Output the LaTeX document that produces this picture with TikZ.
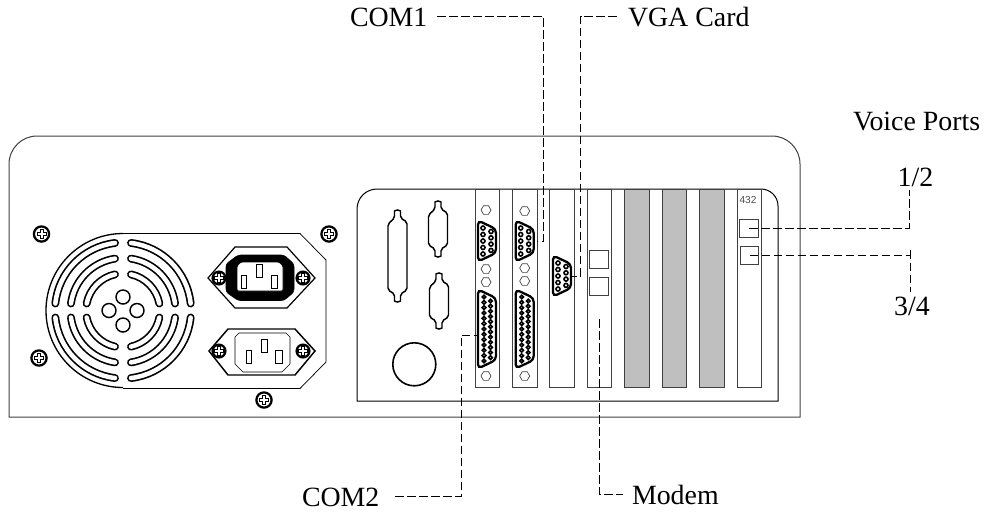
\documentclass[tikz,border=0pt]{standalone}
\usepackage{fontspec}
\setmainfont{Liberation Serif}
\setsansfont{Liberation Sans}
\usetikzlibrary{positioning, calc}
\tikzset{
  caseline/.style={line width=.75pt,draw=black!75},
  panelline/.style={line width=.75pt,draw=black},
  card/.style={draw=black!75,line width=.7pt,rectangle,inner sep=0pt,outer sep=0pt,minimum width=18.4pt,minimum height=149pt},
  blankcard/.style={card,fill=black!25},
  jack/.style={draw=black!75,line width=.6pt,rectangle,inner sep=0pt,outer sep=0pt,minimum width=13.8pt,minimum height=13.5pt},
  callout/.style={font=\fontsize{20.9}{24}\selectfont,inner sep=0pt,outer sep=0pt},
  link/.style={line width=.55pt,dash pattern=on 6.5pt off 2.5pt},
  fanslot/.style={double=white,double distance=3.4pt,line width=1.25pt,line cap=round},
  portbox/.style={inner sep=0pt,outer sep=0pt,minimum width=14.5pt},
  pics/screw/.style={code={
    \draw[line width=1.7pt,fill=white] (0,0) circle[radius=#1];
    \draw[line width=.6pt] (-1.5,-4.6) -- (1.5,-4.6) -- (1.5,-1.5) -- (4.6,-1.5) -- (4.6,1.5) -- (1.5,1.5)
      -- (1.5,4.6) -- (-1.5,4.6) -- (-1.5,1.5) -- (-4.6,1.5) -- (-4.6,-1.5) -- (-1.5,-1.5) -- cycle;
  }},
  pics/hole/.style={code={
    \draw[line width=.5pt,draw=black!75] (0:5) -- (60:5) -- (120:5) -- (180:5) -- (240:5) -- (300:5) -- cycle;
  }},
  pics/dshell/.style={code={
    \draw[line width=1.1pt,rounded corners=1.5pt,fill=white] (-3,{-#1-3}) -- (-3,{-#1-8}) arc[start angle=180,end angle=360,radius=3]
      -- (3,{-#1-3}) -- (9.5,{-#1+1}) -- (9.5,{#1-1}) -- (3,{#1+3}) -- (3,{#1+8}) arc[start angle=0,end angle=180,radius=3]
      -- (-3,{#1+3}) -- (-9.5,{#1-1}) -- (-9.5,{-#1+3}) -- cycle;
  }},
  pin/.style={line width=1.2pt,fill=white},
  pics/nineport/.style={code={
    \draw[line width=1.7pt,rounded corners=3pt,fill=white] (-9,-20.5) -- (9,-12) -- (9,12) -- (-9,20.5) -- cycle;
    \foreach \i in {0,...,4}
      \draw[pin] (-4,{-13+6.5*\i}) circle[radius=2];
    \foreach \i in {0,...,3}
      \draw[pin] (4,{-9.5+6.3*\i}) circle[radius=2];
  }},
  pics/bigport/.style={code={
    \draw[line width=1.7pt,rounded corners=3pt,fill=white] (-9,-39.5) -- (9,-31) -- (9,31) -- (-9,39.5) -- cycle;
    \foreach \i in {0,...,12}
      \draw[pin] (-3,{-32+5.33*\i}) circle[radius=1.8];
    \foreach \i in {0,...,11}
      \draw[pin] (3.5,{-28+5.15*\i}) circle[radius=1.8];
  }},
}
\begin{document}
\begin{tikzpicture}[x=.75pt,y=-.75pt]
        \useasboundingbox (0,0) rectangle (989,512);
        % case and back panel
        \draw[caseline] (9,417) -- (9,164) arc[start angle=180,end angle=270,radius=28] -- (772,136)
           arc[start angle=270,end angle=360,radius=28] -- (800,417) -- cycle;
        \draw[panelline] (357,401) -- (357,209) arc[start angle=180,end angle=270,radius=20] -- (761,189)
           arc[start angle=270,end angle=360,radius=17] -- (778,401) -- cycle;
        % power supply
        \coordinate (fan) at (123,310.5);
        \draw[line width=.55pt] (123,233.5) -- (300,233.5) -- (326,260) -- (326,362) -- (300,388.5) -- (123,388.5);
        \draw[line width=1pt] (fan) ++(270:77) arc[start angle=270,end angle=90,radius=77];
        \foreach \rad in {68,52.5,37}{
          \pgfmathsetmacro\gapa{asin(8/\rad)}
          \pgfmathsetmacro\gapb{asin(7/\rad)}
          \foreach \from/\to in {\gapb/90-\gapa,90+\gapa/180-\gapb,180+\gapb/270-\gapa,270+\gapa/360-\gapb}
            \draw[fanslot] (fan) ++({\from}:\rad) arc[start angle={\from},end angle={\to},radius=\rad];
        }
        \foreach \dx/\dy in {0/-13.5,0/14.5,-14/0,14/0}
          \draw[line width=1.1pt] ($(fan)+(\dx,\dy)$) circle[radius=7];
        \pic at (41.5,234) {screw=7.6};
        \pic at (329,234) {screw=7.6};
        \pic at (39,358) {screw=7.6};
        \pic at (264,400) {screw=7.6};
        % upper socket
        \draw[line width=.9pt] (208,278) -- (235,247) -- (287,247) -- (315,278) -- (287,308) -- (235,308) -- cycle;
        \draw[fill=black,rounded corners=2pt] (226,264) -- (238,255) -- (284,255) -- (294,264) -- (294,292) -- (284,300.5) -- (238,300.5) -- (226,292) -- cycle;
        \draw[fill=white,line width=.5pt,rounded corners=1pt] (241,262) -- (279,262) -- (283,266) -- (283,291) -- (237,291) -- (237,266) -- cycle;
        \draw[line width=.6pt] (241,275) rectangle (246,288) (256,264) rectangle (262,277) (271,275) rectangle (277,288);
        \pic at (219,278) {screw=6.4};
        \pic at (303,278) {screw=6.4};
        % lower socket
        \draw[line width=1.1pt] (209,351) -- (228,329) -- (295,329) -- (315,351) -- (295,375) -- (228,375) -- cycle;
        \draw[line width=.5pt] (239,333) -- (286,333) -- (290,337) -- (290,364) -- (282,372) -- (243,372) -- (235,364) -- (235,337) -- cycle;
        \draw[line width=.6pt] (246,350) rectangle (251,363) (261,339) rectangle (267,352) (275,350) rectangle (282,363);
        \pic at (219,351) {screw=6.4};
        \pic at (303,351) {screw=6.4};
        % cards
        \node[card,anchor=north west] (slota) at (475,189) {};
        \node[card,right=9.7pt of slota] (slotb) {};
        \node[card,right=9.7pt of slotb] (slotc) {};
        \node[card,right=9.7pt of slotc] (modemcard) {};
        \node[blankcard,right=9.7pt of modemcard] (blanka) {};
        \node[blankcard,right=9.7pt of blanka] (blankb) {};
        \node[blankcard,right=9.7pt of blankb] (blankc) {};
        \node[card,right=9.7pt of blankc] (voicecard) {};
        \node[font=\sffamily\fontsize{7.6}{9}\selectfont,text=black!70,inner sep=0pt] (voicetag) at (748,200) {432};
        \node[jack] (modemjacka) at (599,259) {};
        \node[jack] (modemjackb) at (599,286) {};
        \node[jack] (voicejacka) at (749,228) {};
        \node[jack] (voicejackb) at (749.5,255) {};
        % connectors on the panel
        \pic at (397.5,256) {dshell=35};
        \pic at (438,229) {dshell=17};
        \pic at (439,301) {dshell=17};
        \draw[line width=1.2pt] (414.3,364.3) circle[radius=21.5];
        \foreach \hx/\hy in {486/210,486/269,486/282,486/376,524.7/211,524.7/268,524.7/281,524.7/376}
          \pic at (\hx,\hy) {hole};
        \pic at (487,241) {nineport};
        \pic at (524.7,241) {nineport};
        \pic at (562,276) {nineport};
        \pic at (487,329) {bigport};
        \pic at (524.7,329) {bigport};
        \node[portbox] (comoneport) at (524.7,241) {};
        \node[portbox] (vgaport) at (562,276) {};
        \node[portbox] (comtwoport) at (487,335) {};
        % labels
        \node[callout,anchor=west] (comone) at (350,17) {COM1};
        \node[callout,anchor=west] (vgacard) at (628,17) {VGA Card};
        \node[callout,anchor=west] (voiceports) at (853,121) {Voice Ports};
        \node[callout] (onetwo) at (915.5,177) {1/2};
        \node[callout] (threefour) at (912,306) {3/4};
        \node[callout,anchor=west] (comtwo) at (302,497.5) {COM2};
        \node[callout,anchor=west] (modem) at (632,495) {Modem};
        \coordinate (comonebend) at (543.7,16.5);
        \coordinate (comoneend) at (537,241);
        \coordinate (vgabend) at (580.5,16);
        \coordinate (comtwobend) at (461,496.7);
        \coordinate (modemstart) at (599.3,319);
        \coordinate (onetwoend) at (909,190);
        \coordinate (threefourend) at (910,292);
        \coordinate (threefourstub) at (910,250);
        \draw[link] (comone.east |- comonebend) ++(10,0) -- (comonebend) |- (comoneend);
        \draw[link] (vgacard.west |- vgabend) ++(-11,0) -- (vgabend) |- (vgaport.east);
        \draw[link] (comtwo.east |- comtwobend) ++(16,0) -- (comtwobend) |- (comtwoport.west);
        \draw[link] (modemstart) |- ($(modem.west)+(-9,-1)$);
        \draw[link] (voicejacka.center) -| (onetwoend);
        \draw[link] (voicejackb.center) -| (threefourend);
        \draw[link] (threefourstub) -- (threefourstub |- voicejackb.center);
\end{tikzpicture}
\end{document}
